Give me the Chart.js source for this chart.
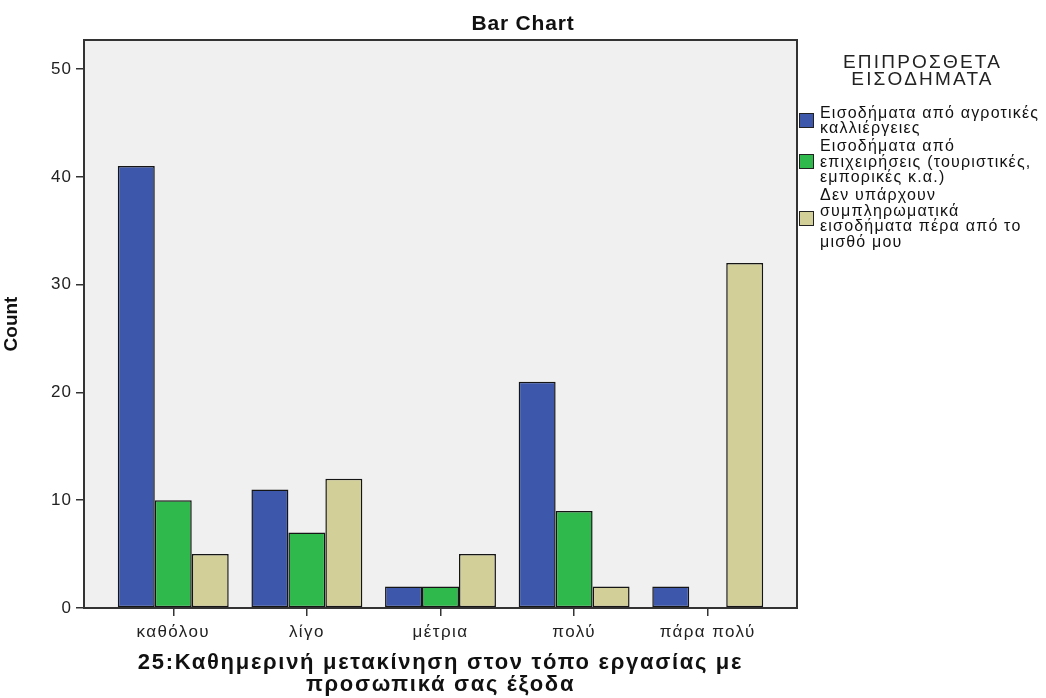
<!DOCTYPE html>
<html>
<head>
<meta charset="utf-8">
<script src="https://cdn.jsdelivr.net/npm/chart.js@4"></script>
<style>
  body { margin: 0; background: #fff; }
  #wrap { position: relative; width: 1046px; height: 698px; font-family: Arial, "Liberation Sans", sans-serif; color: #111; }
  #title { position: absolute; left: 0; width: 1046px; top: 11px; text-align: center; font-weight: bold; font-size: 21px; letter-spacing: 0.8px; }
  #legend { position: absolute; left: 799px; top: 0; width: 247px; font-size: 16px; letter-spacing: 1.2px; color: #111; }
  #legend .lt { position: absolute; top: 53px; left: 0; width: 247px; text-align: center; font-size: 19px; line-height: 17px; letter-spacing: 2.2px; color: #222; }
  #legend .it { position: absolute; left: 0; padding-left: 21px; line-height: 15.5px; white-space: nowrap; }
  #legend .sw { position: absolute; left: 0; width: 15px; height: 15px; border: 1px solid #222; box-sizing: border-box; }
</style>
</head>
<body>
<div id="wrap">
  <canvas id="barChart" width="1046" height="698"></canvas>
  <div id="title">Bar Chart</div>
  <div id="legend"></div>
</div>
<script>
// --- データ ---
const categories = ['καθόλου', 'λίγο', 'μέτρια', 'πολύ', 'πάρα πολύ'];
const seriesNames = [
    ['Εισοδήματα από αγροτικές', 'καλλιέργειες'],
    ['Εισοδήματα από', 'επιχειρήσεις (τουριστικές,', 'εμπορικές κ.α.)'],
    ['Δεν υπάρχουν', 'συμπληρωματικά', 'εισοδήματα πέρα από το', 'μισθό μου']
];
const agriValues = [41, 11, 2, 21, 2];
const businessValues = [10, 7, 2, 9, 0];
const noneValues = [5, 12, 5, 2, 32];
const yTicks = [0, 10, 20, 30, 40, 50];
const colors = ['#3D57AB', '#2FB84B', '#D3CF98'];
const legendTitle = ['ΕΠΙΠΡΟΣΘΕΤΑ', 'ΕΙΣΟΔΗΜΑΤΑ'];
const xTitle = ['25:Καθημερινή μετακίνηση στον τόπο εργασίας με', 'προσωπικά σας έξοδα'];

const FONT = 'Arial, "Liberation Sans", sans-serif';

// 文字間隔（元画像の横長フォントに近づける）
const spacing = { x: { labels: '1.4px', title: '1.7px' }, y: { labels: '1px', title: '0px' } };

// 枠・背景・文字間隔のプラグイン
const framePlugin = {
    id: 'frame',
    beforeDraw(chart) {
        const a = chart.chartArea;
        const ctx = chart.ctx;
        ctx.save();
        ctx.fillStyle = '#F0F0F0';
        ctx.fillRect(a.left, a.top, a.right - a.left, a.bottom - a.top);
        ctx.restore();

        Object.values(chart.scales).forEach(scale => {
            if (scale._patched || !spacing[scale.id]) return;
            const sp = spacing[scale.id];
            const origLabels = scale.drawLabels;
            const origTitle = scale.drawTitle;
            scale.drawLabels = function(area) {
                this.ctx.letterSpacing = sp.labels;
                origLabels.call(this, area);
                this.ctx.letterSpacing = '0px';
            };
            scale.drawTitle = function(area) {
                this.ctx.letterSpacing = sp.title;
                origTitle.call(this, area);
                this.ctx.letterSpacing = '0px';
            };
            scale._patched = true;
        });
    },
    afterDraw(chart) {
        const a = chart.chartArea;
        const ctx = chart.ctx;
        ctx.save();
        ctx.strokeStyle = '#333';
        ctx.lineWidth = 2;
        ctx.strokeRect(a.left, a.top, a.right - a.left, a.bottom - a.top);
        ctx.restore();
    }
};

function toPoints(values) {
    return values.map((v, i) => ({ x: i, y: v }));
}

const datasets = [agriValues, businessValues, noneValues].map((vals, i) => ({
    label: seriesNames[i].join(' '),
    data: toPoints(vals),
    backgroundColor: colors[i],
    borderColor: '#151515',
    borderWidth: 1.5,
    borderSkipped: false,
    categoryPercentage: 0.83,
    barPercentage: 1.0
}));

new Chart(document.getElementById('barChart'), {
    type: 'bar',
    data: { datasets: datasets },
    plugins: [framePlugin],
    options: {
        responsive: false,
        animation: false,
        layout: { padding: { top: 40, right: 249, left: 0, bottom: 0 } },
        scales: {
            x: {
                type: 'linear',
                offset: false,
                min: -0.668,
                max: 4.668,
                afterBuildTicks: (scale) => { scale.ticks = categories.map((c, i) => ({ value: i })); },
                afterFit: (scale) => { scale.height = 90; },
                grid: { display: true, offset: false, drawOnChartArea: false, drawTicks: true, tickLength: 8, color: '#333', lineWidth: 1.5 },
                border: { display: false },
                ticks: {
                    color: '#222',
                    padding: 6,
                    maxRotation: 0,
                    autoSkip: false,
                    font: { family: FONT, size: 17 },
                    callback: (v) => categories[v]
                },
                title: {
                    display: true,
                    text: xTitle,
                    color: '#111',
                    padding: { top: 4, bottom: 3 },
                    font: { family: FONT, size: 22, weight: 'bold', lineHeight: 0.96 }
                }
            },
            y: {
                min: 0,
                max: 52.7,
                afterBuildTicks: (scale) => { scale.ticks = yTicks.map(v => ({ value: v })); },
                afterFit: (scale) => { scale.width = 84; },
                grid: { display: true, drawOnChartArea: false, drawTicks: true, tickLength: 8, color: '#333', lineWidth: 1.5 },
                border: { display: false },
                ticks: {
                    color: '#222',
                    padding: 4,
                    font: { family: FONT, size: 17 }
                },
                title: {
                    display: true,
                    text: 'Count',
                    color: '#111',
                    padding: { top: 0, bottom: 0 },
                    font: { family: FONT, size: 19, weight: 'bold' }
                }
            }
        },
        plugins: {
            legend: { display: false },
            tooltip: { enabled: false },
            title: { display: false }
        }
    }
});

// 凡例（複数行ラベルのためHTMLで作成）
const LINE_H = 15.5;
const legendEl = document.getElementById('legend');
const lt = document.createElement('div');
lt.className = 'lt';
lt.innerHTML = legendTitle.join('<br>');
legendEl.appendChild(lt);
let itemTop = 104.5;
seriesNames.forEach((lines, i) => {
    const it = document.createElement('div');
    it.className = 'it';
    it.style.top = itemTop + 'px';
    const sw = document.createElement('span');
    sw.className = 'sw';
    sw.style.background = colors[i];
    sw.style.top = ((lines.length * LINE_H) / 2 - 7.5) + 'px';
    it.appendChild(sw);
    const tx = document.createElement('div');
    tx.innerHTML = lines.join('<br>');
    it.appendChild(tx);
    legendEl.appendChild(it);
    itemTop += lines.length * LINE_H + 2.5;
});
</script>
</body>
</html>
